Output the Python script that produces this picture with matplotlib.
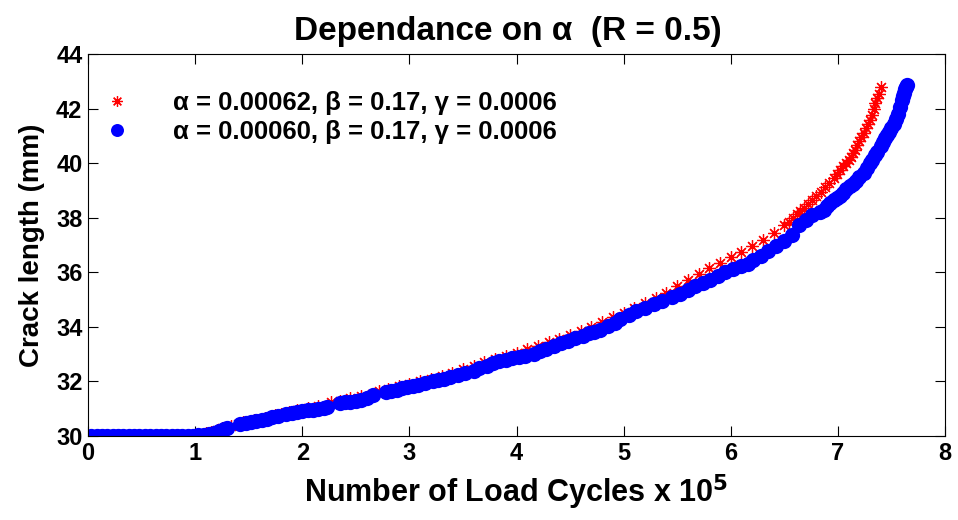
import matplotlib
matplotlib.use('Agg')
import matplotlib.pyplot as plt

plt.rcParams['font.family'] = ['Liberation Sans', 'DejaVu Sans']
plt.rcParams['font.weight'] = 'bold'

# alpha = 0.00062 (red asterisks)
red_x = [0.03, 0.08, 0.13, 0.18, 0.23, 0.28, 0.33, 0.38, 0.43, 0.48, 0.53, 0.58,
         0.63, 0.68, 0.73, 0.78, 0.83, 0.88, 0.93, 1.00, 1.05, 1.10, 1.15, 1.20,
         1.25, 1.33, 1.40, 1.45, 1.55, 1.65, 1.75, 1.80, 1.88, 1.95, 2.05, 2.15,
         2.27, 2.35, 2.45, 2.55, 2.65, 2.72, 2.80, 2.90, 3.00, 3.10, 3.20, 3.30,
         3.40, 3.50, 3.60, 3.70, 3.80, 3.90, 4.00, 4.10, 4.20, 4.30, 4.40, 4.50,
         4.60, 4.70, 4.80, 4.90, 5.00, 5.10, 5.20, 5.30, 5.40, 5.50, 5.60, 5.70,
         5.80, 5.90, 6.00, 6.10, 6.20, 6.30, 6.40, 6.50, 6.54, 6.58, 6.62, 6.65,
         6.68, 6.72, 6.76, 6.80, 6.84, 6.88, 6.92, 6.96, 6.99, 7.02, 7.05, 7.08,
         7.10, 7.12, 7.14, 7.16, 7.18, 7.20, 7.22, 7.24, 7.26, 7.28, 7.30, 7.32,
         7.34, 7.35, 7.37, 7.38, 7.40]
red_y = [30.0, 30.0, 30.0, 30.0, 30.0, 30.0, 30.0, 30.0, 30.0, 30.0, 30.0, 30.0,
         30.0, 30.0, 30.0, 30.0, 30.0, 30.0, 30.0, 30.02, 30.05, 30.1, 30.15, 30.22,
         30.3, 30.38, 30.45, 30.5, 30.58, 30.67, 30.77, 30.82, 30.88, 30.95, 31.02, 31.1,
         31.25, 31.3, 31.38, 31.45, 31.55, 31.65, 31.72, 31.82, 31.92, 32.0, 32.1, 32.2,
         32.32, 32.45, 32.55, 32.7, 32.82, 32.95, 33.05, 33.18, 33.3, 33.43, 33.56, 33.7,
         33.85, 34.0, 34.17, 34.35, 34.52, 34.7, 34.88, 35.05, 35.25, 35.5, 35.72, 35.95,
         36.15, 36.35, 36.55, 36.75, 36.96, 37.2, 37.45, 37.75, 37.85, 38.0, 38.14, 38.24,
         38.35, 38.5, 38.65, 38.8, 38.95, 39.12, 39.28, 39.44, 39.6, 39.75, 39.88, 40.0,
         40.1, 40.22, 40.36, 40.5, 40.68, 40.82, 40.95, 41.1, 41.28, 41.45, 41.6, 41.78,
         41.98, 42.2, 42.38, 42.55, 42.8]

# alpha = 0.00060 (blue dots)
blue_x = [0.03, 0.08, 0.13, 0.18, 0.23, 0.28, 0.33, 0.38, 0.43, 0.48, 0.53, 0.58,
          0.63, 0.68, 0.73, 0.78, 0.83, 0.88, 0.93, 0.98, 1.03, 1.08, 1.13, 1.18,
          1.22, 1.27, 1.30, 1.42, 1.47, 1.52, 1.57, 1.62, 1.67, 1.72, 1.77, 1.85,
          1.90, 1.95, 2.00, 2.05, 2.10, 2.15, 2.20, 2.23, 2.35, 2.40, 2.45, 2.50,
          2.55, 2.60, 2.66, 2.78, 2.83, 2.88, 2.93, 2.98, 3.03, 3.08, 3.15, 3.22,
          3.27, 3.32, 3.38, 3.45, 3.52, 3.60, 3.65, 3.72, 3.78, 3.84, 3.90, 3.96,
          4.02, 4.08, 4.16, 4.22, 4.28, 4.35, 4.42, 4.48, 4.55, 4.62, 4.68, 4.72,
          4.78, 4.85, 4.92, 4.97, 5.05, 5.12, 5.20, 5.28, 5.36, 5.45, 5.53, 5.60,
          5.67, 5.74, 5.81, 5.88, 5.95, 6.02, 6.10, 6.16, 6.21, 6.28, 6.35, 6.42,
          6.50, 6.57, 6.64, 6.70, 6.76, 6.83, 6.87, 6.90, 6.93, 6.96, 6.99, 7.02,
          7.05, 7.08, 7.11, 7.14, 7.17, 7.20, 7.24, 7.27, 7.30, 7.32, 7.35, 7.37,
          7.40, 7.42, 7.44, 7.46, 7.48, 7.50, 7.52, 7.54, 7.56, 7.58, 7.60, 7.61,
          7.62, 7.63, 7.64, 7.65]
blue_y = [30.0, 30.0, 30.0, 30.0, 30.0, 30.0, 30.0, 30.0, 30.0, 30.0, 30.0, 30.0,
          30.0, 30.0, 30.0, 30.0, 30.0, 30.0, 30.0, 30.0, 30.02, 30.05, 30.08, 30.12,
          30.18, 30.25, 30.29, 30.45, 30.48, 30.5, 30.55, 30.6, 30.63, 30.68, 30.72, 30.8,
          30.83, 30.87, 30.9, 30.95, 30.97, 31.0, 31.04, 31.06, 31.2, 31.23, 31.25, 31.28,
          31.33, 31.4, 31.49, 31.62, 31.65, 31.7, 31.75, 31.78, 31.82, 31.87, 31.93, 32.0,
          32.04, 32.1, 32.16, 32.22, 32.3, 32.4, 32.48, 32.58, 32.66, 32.74, 32.8, 32.85,
          32.9, 32.95, 33.02, 33.1, 33.2, 33.3, 33.4, 33.48, 33.58, 33.68, 33.76, 33.8,
          33.9, 34.02, 34.15, 34.3, 34.45, 34.57, 34.7, 34.83, 34.95, 35.08, 35.2, 35.35,
          35.5, 35.62, 35.72, 35.85, 36.0, 36.12, 36.22, 36.32, 36.45, 36.6, 36.78, 36.95,
          37.15, 37.38, 37.72, 37.92, 38.1, 38.2, 38.3, 38.42, 38.55, 38.65, 38.72, 38.8,
          38.92, 39.05, 39.15, 39.24, 39.35, 39.48, 39.63, 39.82, 40.0, 40.12, 40.3, 40.42,
          40.62, 40.78, 40.92, 41.03, 41.14, 41.28, 41.45, 41.62, 41.8, 42.05, 42.3, 42.45,
          42.58, 42.7, 42.8, 42.86]

labels = ['\u03b1 = 0.00062, \u03b2 = 0.17, \u03b3 = 0.0006',
          '\u03b1 = 0.00060, \u03b2 = 0.17, \u03b3 = 0.0006']

fig = plt.figure(figsize=(9.58, 5.2), dpi=100)
ax = fig.add_axes([0.0919, 0.1615, 0.8945, 0.7346])

ax.plot(red_x, red_y, linestyle='none', marker=(8, 2, 0), color='red',
        markersize=9, markeredgewidth=0.9, label=labels[0])
ax.plot(blue_x, blue_y, linestyle='none', marker='o', color='blue',
        markersize=11, markeredgewidth=0, label=labels[1])

ax.set_xlim(0, 8)
ax.set_ylim(30, 44)
ax.set_xticks(range(0, 9))
ax.set_yticks(range(30, 45, 2))
ax.tick_params(direction='in', top=True, right=True, length=7, width=0.8,
               labelsize=17, pad=4)
for lab in ax.get_xticklabels() + ax.get_yticklabels():
    lab.set_fontweight('bold')
for s in ax.spines.values():
    s.set_linewidth(0.8)

ax.set_title('Dependance on \u03b1  (R = 0.5)', fontsize=24, fontweight='bold', pad=10, x=0.49)
ax.set_xlabel('Number of Load Cycles x 10$^{\\mathbf{5}}$', fontsize=22, fontweight='bold', labelpad=6)
ax.set_ylabel('Crack length (mm)', fontsize=20, fontweight='bold', labelpad=8)

leg = ax.legend(loc='upper left', bbox_to_anchor=(-0.011, 0.963), frameon=False,
                prop={'weight': 'bold', 'size': 18.5},
                handlelength=1.2, handletextpad=1.58, labelspacing=0.2,
                markerscale=0.85)

fig.savefig('out.png', dpi=100)
